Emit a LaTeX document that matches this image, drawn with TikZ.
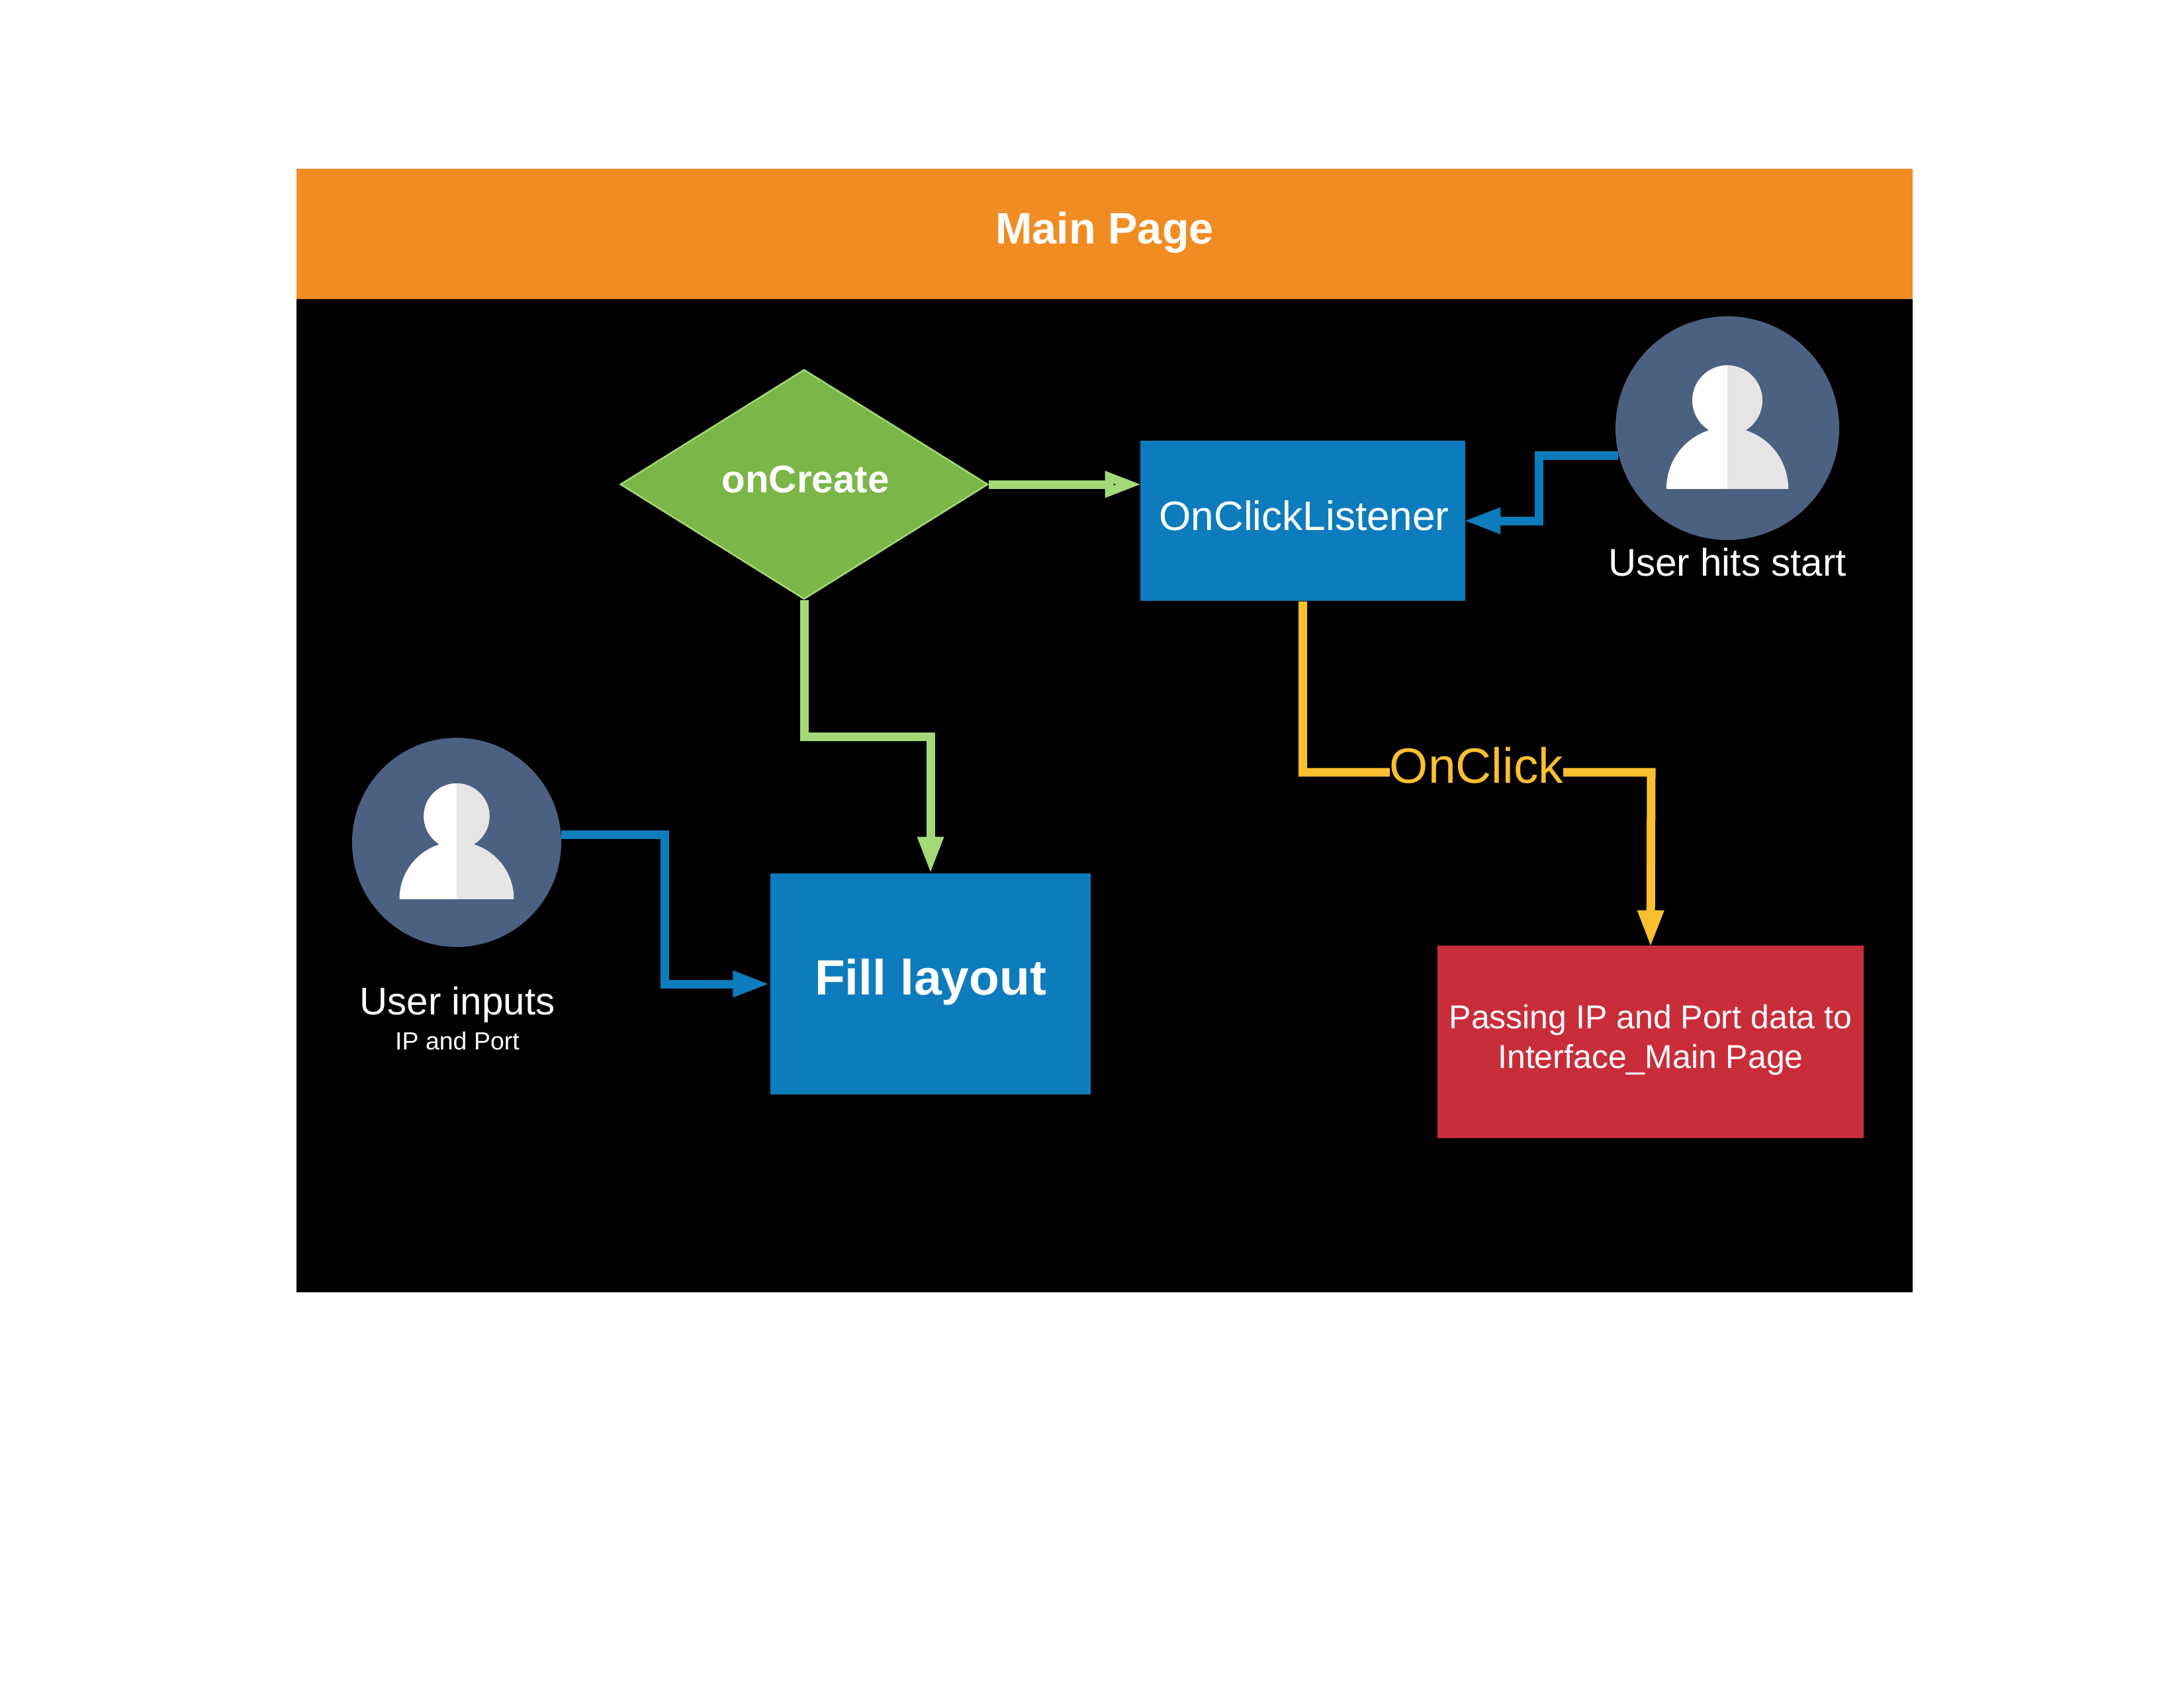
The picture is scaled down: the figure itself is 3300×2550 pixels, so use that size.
\documentclass[tikz,border=0pt]{standalone}
\usepackage{fontspec}
\setmainfont{Liberation Sans}
\usetikzlibrary{shapes.geometric,arrows.meta,positioning}
\definecolor{hdorange}{HTML}{F18C22}
\definecolor{boxblue}{HTML}{0D7CBC}
\definecolor{boxred}{HTML}{C92D39}
\definecolor{boxgreen}{HTML}{7AB648}
\definecolor{linegreen}{HTML}{A3D977}
\definecolor{lineyellow}{HTML}{FCBF2F}
\definecolor{userblue}{HTML}{4C6182}
\newcommand{\lifted}[2]{\raisebox{#1}[0pt][0pt]{#2}}
\tikzset{
	x=0.24pt,y=-0.24pt,
	block/.style ={rectangle, fill=#1, text=white, inner sep=0pt, align=center},
	user/.style = {circle, fill=userblue, inner sep=0pt},
	usertext/.style = {text=white, inner sep=0pt, anchor=base},
	flow/.style = {line width=3.12pt, draw=#1, -{Triangle[length=13.4pt,width=8.8pt]}},
	usericon/.pic = {
		\begin{scope}
			\clip (-100,-100) rectangle (0,91);
			\fill[white] (0,-42) circle (53);
			\fill[white] (0,91) circle (92);
		\end{scope}
		\begin{scope}
			\clip (0,-100) rectangle (100,91);
			\fill[black!10] (0,-42) circle (53);
			\fill[black!10] (0,91) circle (92);
		\end{scope}
	}
}

\begin{document}
\begin{tikzpicture}
	\path[use as bounding box,fill=white] (0,0) rectangle (3300,2550);
	\node[block=black,minimum width=586.08pt,minimum height=360.24pt] (page) at (1669,1202.5) {};
	\node[block=hdorange,minimum width=586.08pt,minimum height=47.28pt,font=\fontsize{16}{19}\bfseries\selectfont] (head) at (1669,353.5) {\lifted{-3.6pt}{Main Page}};

	\node[diamond,draw=linegreen,line width=0.6pt,fill=boxgreen,text=white,inner sep=0pt,aspect=1.6,minimum width=133.3pt,minimum height=83.3pt,font=\fontsize{14}{17}\bfseries\selectfont] (create) at (1215,732) {\hspace*{1pt}\lifted{-3.1pt}{onCreate}};
	\node[block=boxblue,minimum width=117.84pt,minimum height=58.08pt,font=\fontsize{14.9}{18}\selectfont] (listener) at (1968.5,787) {\hspace*{1pt}\lifted{-3.45pt}{OnClickListener}};
	\node[block=boxblue,minimum width=116.16pt,minimum height=80.16pt,font=\fontsize{18}{22}\bfseries\selectfont] (fill) at (1406,1487) {\lifted{-3.9pt}{Fill layout}};
	\node[block=boxred,minimum width=154.56pt,minimum height=69.84pt,font=\fontsize{12}{14.3}\selectfont] (pass) at (2494,1574.5) {\lifted{-2.5pt}{\begin{tabular}{@{}c@{}}Passing IP and Port data to\\Interface\_Main Page\end{tabular}}};

	\node[user,minimum size=81.12pt] (start) at (2610,647) {};
	\pic at (start) {usericon};
	\node[usertext,font=\fontsize{14}{17}\selectfont] (hits) at (2610,870) {User hits start};
	\node[user,minimum size=75.84pt] (input) at (690,1273) {};
	\pic[scale=0.94] at (input) {usericon};
	\node[usertext,font=\fontsize{14}{17}\selectfont] (inputs) at (691,1533) {User inputs};
	\node[usertext,font=\fontsize{9}{11}\selectfont] (port) at (691,1586) {IP and Port};

	\coordinate (b1) at (1406,1113);
	\coordinate (b2) at (2325,787);
	\coordinate (b3) at (1004,1487);
	\coordinate (b4) at (2495,1167);

	\path[flow=linegreen,shorten >=-0.8pt] (create) edge (listener.west |- create);
	\draw[flow=linegreen,shorten >=-0.3pt] (create.south) |- (b1) -- (fill.north);
	\draw[flow=boxblue,shorten >=-0.8pt] (start.194.4) -| (b2) -- (listener.east);
	\draw[flow=boxblue] (input.4) -| (b3) -- (fill.west);
	\draw[flow=lineyellow,shorten >=-0.8pt] (listener.south) |- (b4) -- (pass.north);
	\node[fill=black,text=lineyellow,inner sep=0pt,font=\fontsize{18}{22}\selectfont] (click) at (2231,1157) {OnClick};
\end{tikzpicture}
\end{document}
